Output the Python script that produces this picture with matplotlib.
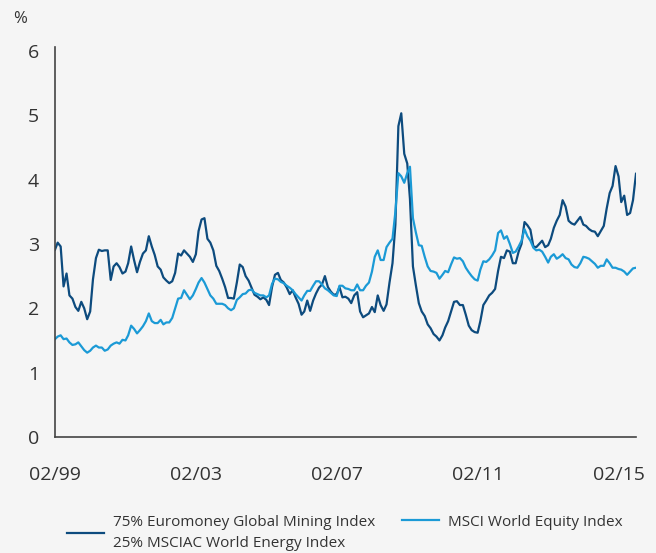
#!/usr/bin/env python3
"""Volatility of mining/energy blend vs world equities, 02/1999 - 08/2015."""

import matplotlib

matplotlib.use("Agg")
import matplotlib.pyplot as plt
import matplotlib.dates as mdates
import pandas as pd

START = "1999-02-01"

# monthly values (%), 02/1999 onwards
mining_energy = [
    2.91, 3.02, 2.96, 2.34, 2.54, 2.20, 2.15, 2.02, 1.96, 2.10,
    2.00, 1.83, 1.95, 2.45, 2.78, 2.91, 2.89, 2.90, 2.90, 2.44,
    2.65, 2.70, 2.64, 2.54, 2.57, 2.70, 2.96, 2.75, 2.56, 2.72,
    2.85, 2.90, 3.12, 2.96, 2.83, 2.65, 2.60, 2.48, 2.43, 2.39,
    2.42, 2.55, 2.85, 2.82, 2.90, 2.85, 2.80, 2.72, 2.84, 3.20,
    3.38, 3.40, 3.08, 3.02, 2.90, 2.66, 2.58, 2.46, 2.33, 2.16,
    2.16, 2.15, 2.40, 2.68, 2.64, 2.50, 2.43, 2.32, 2.21, 2.18,
    2.14, 2.17, 2.13, 2.05, 2.33, 2.52, 2.55, 2.44, 2.40, 2.32,
    2.22, 2.28, 2.17, 2.07, 1.90, 1.95, 2.12, 1.96, 2.12, 2.23,
    2.32, 2.37, 2.50, 2.33, 2.26, 2.21, 2.22, 2.33, 2.17, 2.18,
    2.15, 2.08, 2.20, 2.25, 1.95, 1.86, 1.89, 1.92, 2.02, 1.94,
    2.20, 2.05, 1.96, 2.06, 2.40, 2.70, 3.30, 4.83, 5.03, 4.40,
    4.25, 3.70, 2.65, 2.36, 2.08, 1.95, 1.88, 1.75, 1.69, 1.60,
    1.56, 1.50, 1.58, 1.70, 1.80, 1.95, 2.10, 2.11, 2.05, 2.05,
    1.90, 1.73, 1.66, 1.63, 1.62, 1.80, 2.05, 2.12, 2.20, 2.24,
    2.30, 2.58, 2.80, 2.78, 2.90, 2.88, 2.70, 2.70, 2.88, 3.00,
    3.34, 3.29, 3.22, 2.96, 2.95, 3.00, 3.05, 2.95, 2.98, 3.08,
    3.25, 3.36, 3.45, 3.68, 3.58, 3.36, 3.32, 3.30, 3.36, 3.42,
    3.30, 3.28, 3.23, 3.20, 3.19, 3.12, 3.20, 3.28, 3.55, 3.79,
    3.90, 4.21, 4.05, 3.65, 3.75, 3.45, 3.48, 3.68, 4.09,
]

world_equity = [
    1.52, 1.56, 1.58, 1.52, 1.53, 1.47, 1.43, 1.44, 1.47, 1.41,
    1.35, 1.31, 1.34, 1.39, 1.42, 1.39, 1.39, 1.34, 1.36, 1.42,
    1.45, 1.47, 1.45, 1.51, 1.50, 1.58, 1.73, 1.68, 1.61, 1.66,
    1.72, 1.80, 1.92, 1.80, 1.77, 1.77, 1.82, 1.75, 1.78, 1.78,
    1.85, 2.00, 2.15, 2.16, 2.28, 2.21, 2.14, 2.20, 2.30, 2.40,
    2.47, 2.40, 2.30, 2.20, 2.15, 2.07, 2.07, 2.07, 2.05, 2.00,
    1.97, 2.00, 2.13, 2.17, 2.22, 2.23, 2.28, 2.29, 2.24, 2.22,
    2.20, 2.20, 2.17, 2.20, 2.38, 2.46, 2.45, 2.41, 2.39, 2.35,
    2.32, 2.28, 2.22, 2.17, 2.12, 2.20, 2.27, 2.27, 2.35, 2.42,
    2.42, 2.37, 2.31, 2.28, 2.24, 2.20, 2.19, 2.35, 2.35, 2.31,
    2.30, 2.28, 2.28, 2.37, 2.28, 2.28, 2.35, 2.40, 2.57, 2.80,
    2.90, 2.75, 2.75, 2.95, 3.02, 3.08, 3.50, 4.10, 4.05, 3.95,
    4.10, 4.20, 3.40, 3.18, 2.98, 2.97, 2.80, 2.65, 2.58, 2.57,
    2.55, 2.46, 2.52, 2.58, 2.56, 2.68, 2.79, 2.77, 2.78, 2.73,
    2.63, 2.56, 2.50, 2.45, 2.43, 2.60, 2.73, 2.72, 2.76, 2.82,
    2.90, 3.17, 3.21, 3.08, 3.12, 3.00, 2.86, 2.88, 2.96, 3.05,
    3.23, 3.12, 3.05, 2.94, 2.90, 2.91, 2.88, 2.80, 2.71, 2.80,
    2.84, 2.77, 2.80, 2.84, 2.78, 2.76, 2.68, 2.64, 2.63, 2.70,
    2.80, 2.79, 2.77, 2.73, 2.69, 2.63, 2.66, 2.66, 2.76, 2.70,
    2.63, 2.63, 2.61, 2.60, 2.57, 2.52, 2.57, 2.62, 2.63,
]

tick_dates = ["1999-02-01", "2003-02-01", "2007-02-01", "2011-02-01", "2015-02-01"]
y_ticks = [0, 1, 2, 3, 4, 5, 6]

label_mining = "75% Euromoney Global Mining Index\n25% MSCIAC World Energy Index"
label_equity = "MSCI World Equity Index"

DARK = "#0d4b7e"
LIGHT = "#1b9ad6"
TEXT = "#333333"
BG = "#f5f5f5"

plt.rcParams["font.family"] = ["Open Sans", "DejaVu Sans"]

dates = pd.date_range(START, periods=len(mining_energy), freq="MS")

fig = plt.figure(figsize=(6.56, 5.53), dpi=100, facecolor=BG)
ax = fig.add_axes([0.0838, 0.2098, 0.8857, 0.7052])
ax.set_facecolor(BG)

l1, = ax.plot(dates, mining_energy, color=DARK, lw=1.6, label=label_mining)
l2, = ax.plot(dates, world_equity, color=LIGHT, lw=1.6, label=label_equity)

ax.set_xlim(dates[0], dates[-1])
ax.set_ylim(0, 6.06)
ax.set_yticks(y_ticks)
ax.set_xticks(pd.to_datetime(tick_dates))
ax.xaxis.set_major_formatter(mdates.DateFormatter("%m/%y"))

for side in ("top", "right"):
    ax.spines[side].set_visible(False)
for side in ("left", "bottom"):
    ax.spines[side].set_color("#444444")
    ax.spines[side].set_linewidth(1.2)

ax.tick_params(axis="both", length=0, labelsize=14, labelcolor=TEXT)
ax.tick_params(axis="y", pad=11.5)
ax.tick_params(axis="x", pad=21)

fig.text(20 / 656, 1 - 19 / 553, "%", fontsize=12, color=TEXT,
         ha="center", va="center")

legend_kw = dict(loc="center left", frameon=False, fontsize=11,
                 handlelength=2.45, handletextpad=0.55, borderpad=0,
                 borderaxespad=0, labelcolor=TEXT)
leg1 = fig.legend(handles=[l1], bbox_to_anchor=(67 / 656, 1 - 533 / 553),
                  **legend_kw)
for t in leg1.get_texts():
    t.set_linespacing(1.55)
leg2 = fig.legend(handles=[l2], bbox_to_anchor=(402 / 656, 1 - 522 / 553),
                  **legend_kw)

fig.savefig("out.png", dpi=100, facecolor=BG)
plt.close(fig)
